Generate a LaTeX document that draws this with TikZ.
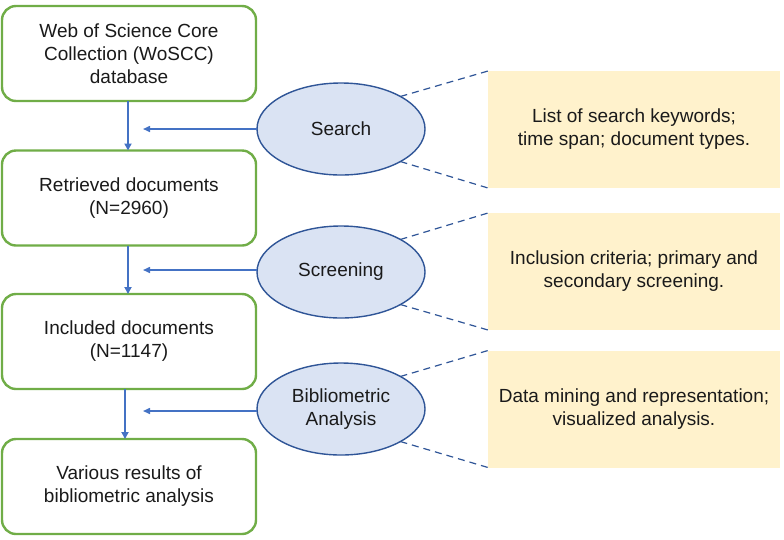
\documentclass[tikz,border=0pt]{standalone}
\usepackage{fontspec}
\setmainfont{Liberation Sans}
\usetikzlibrary{arrows.meta,shapes.geometric}
\definecolor{boxgreen}{HTML}{70AD47}
\definecolor{ellfill}{HTML}{DAE3F3}
\definecolor{elldraw}{HTML}{2F5597}
\definecolor{arrowblue}{HTML}{4472C4}
\definecolor{notefill}{HTML}{FFF2CC}
\definecolor{txt}{HTML}{1A1A1A}
\begin{document}
\begin{tikzpicture}[x=1pt,y=-1pt,
 every node/.style={font=\fontsize{19}{23}\selectfont, text=txt, align=center, outer sep=0pt, inner sep=0pt},
 stage/.style={draw=boxgreen, line width=2.4pt, rounded corners=14pt, fill=white, minimum width=254pt, minimum height=95pt},
 proc/.style={ellipse, draw=elldraw, line width=1.4pt, fill=ellfill, minimum width=168pt, minimum height=92pt},
 note/.style={fill=notefill, minimum width=292pt, minimum height=117pt},
 flow/.style={draw=arrowblue, line width=1.8pt, -{Triangle[length=7pt,width=7pt]}},
 link/.style={draw=elldraw, line width=1.2pt, dash pattern=on 7pt off 5pt}]
\useasboundingbox (0,0) rectangle (784,539);

% left column
\node[stage] (b1) at (129,53.5) {Web of Science Core\\Collection (WoSCC)\\database};
\node[stage] (b2) at (129,198) {Retrieved documents\\(N=2960)};
\node[stage] (b3) at (129,341.5) {Included documents\\(N=1147)};
\node[stage] (b4) at (129,486.5) {Various results of\\bibliometric analysis};

% ellipses
\node[proc] (e1) at (341,129) {Search};
\node[proc] (e2) at (341,272) {Screening};
\node[proc] (e3) at (341,409) {Bibliometric\\Analysis};

% notes
\node[note] (n1) at (634,129.5) {List of search keywords;\\time span; document types.};
\node[note] (n2) at (634,271.5) {Inclusion criteria; primary and\\secondary screening.};
\node[note] (n3) at (634,409) {Data mining and representation;\\visualized analysis.};

% vertical flow
\draw[flow] ([xshift=-1pt]b1.south) -- ([xshift=-1pt]b2.north);
\draw[flow] ([xshift=-1pt]b2.south) -- ([xshift=-1pt]b3.north);
\draw[flow] ([xshift=-4pt]b3.south) -- ([xshift=-4pt]b4.north);

% horizontal arrows
\coordinate (t1) at (143,129);
\coordinate (t2) at (143,270);
\coordinate (t3) at (143,411);
\draw[flow, line width=1.5pt, -{Triangle[length=7pt,width=6pt]}] (e1.west) -- (t1);
\draw[flow, line width=1.5pt, -{Triangle[length=7pt,width=6pt]}] (e2.west |- t2) -- (t2);
\draw[flow, line width=1.5pt, -{Triangle[length=7pt,width=6pt]}] ([yshift=-2pt]e3.west) -- (t3);

% dashed links
\draw[link] (e1.north east) -- (n1.north west);
\draw[link] (e1.south east) -- (n1.south west);
\draw[link] (e2.north east) -- (n2.north west);
\draw[link] (e2.south east) -- (n2.south west);
\draw[link] (e3.north east) -- (n3.north west);
\draw[link] (e3.south east) -- (n3.south west);
\end{tikzpicture}
\end{document}
